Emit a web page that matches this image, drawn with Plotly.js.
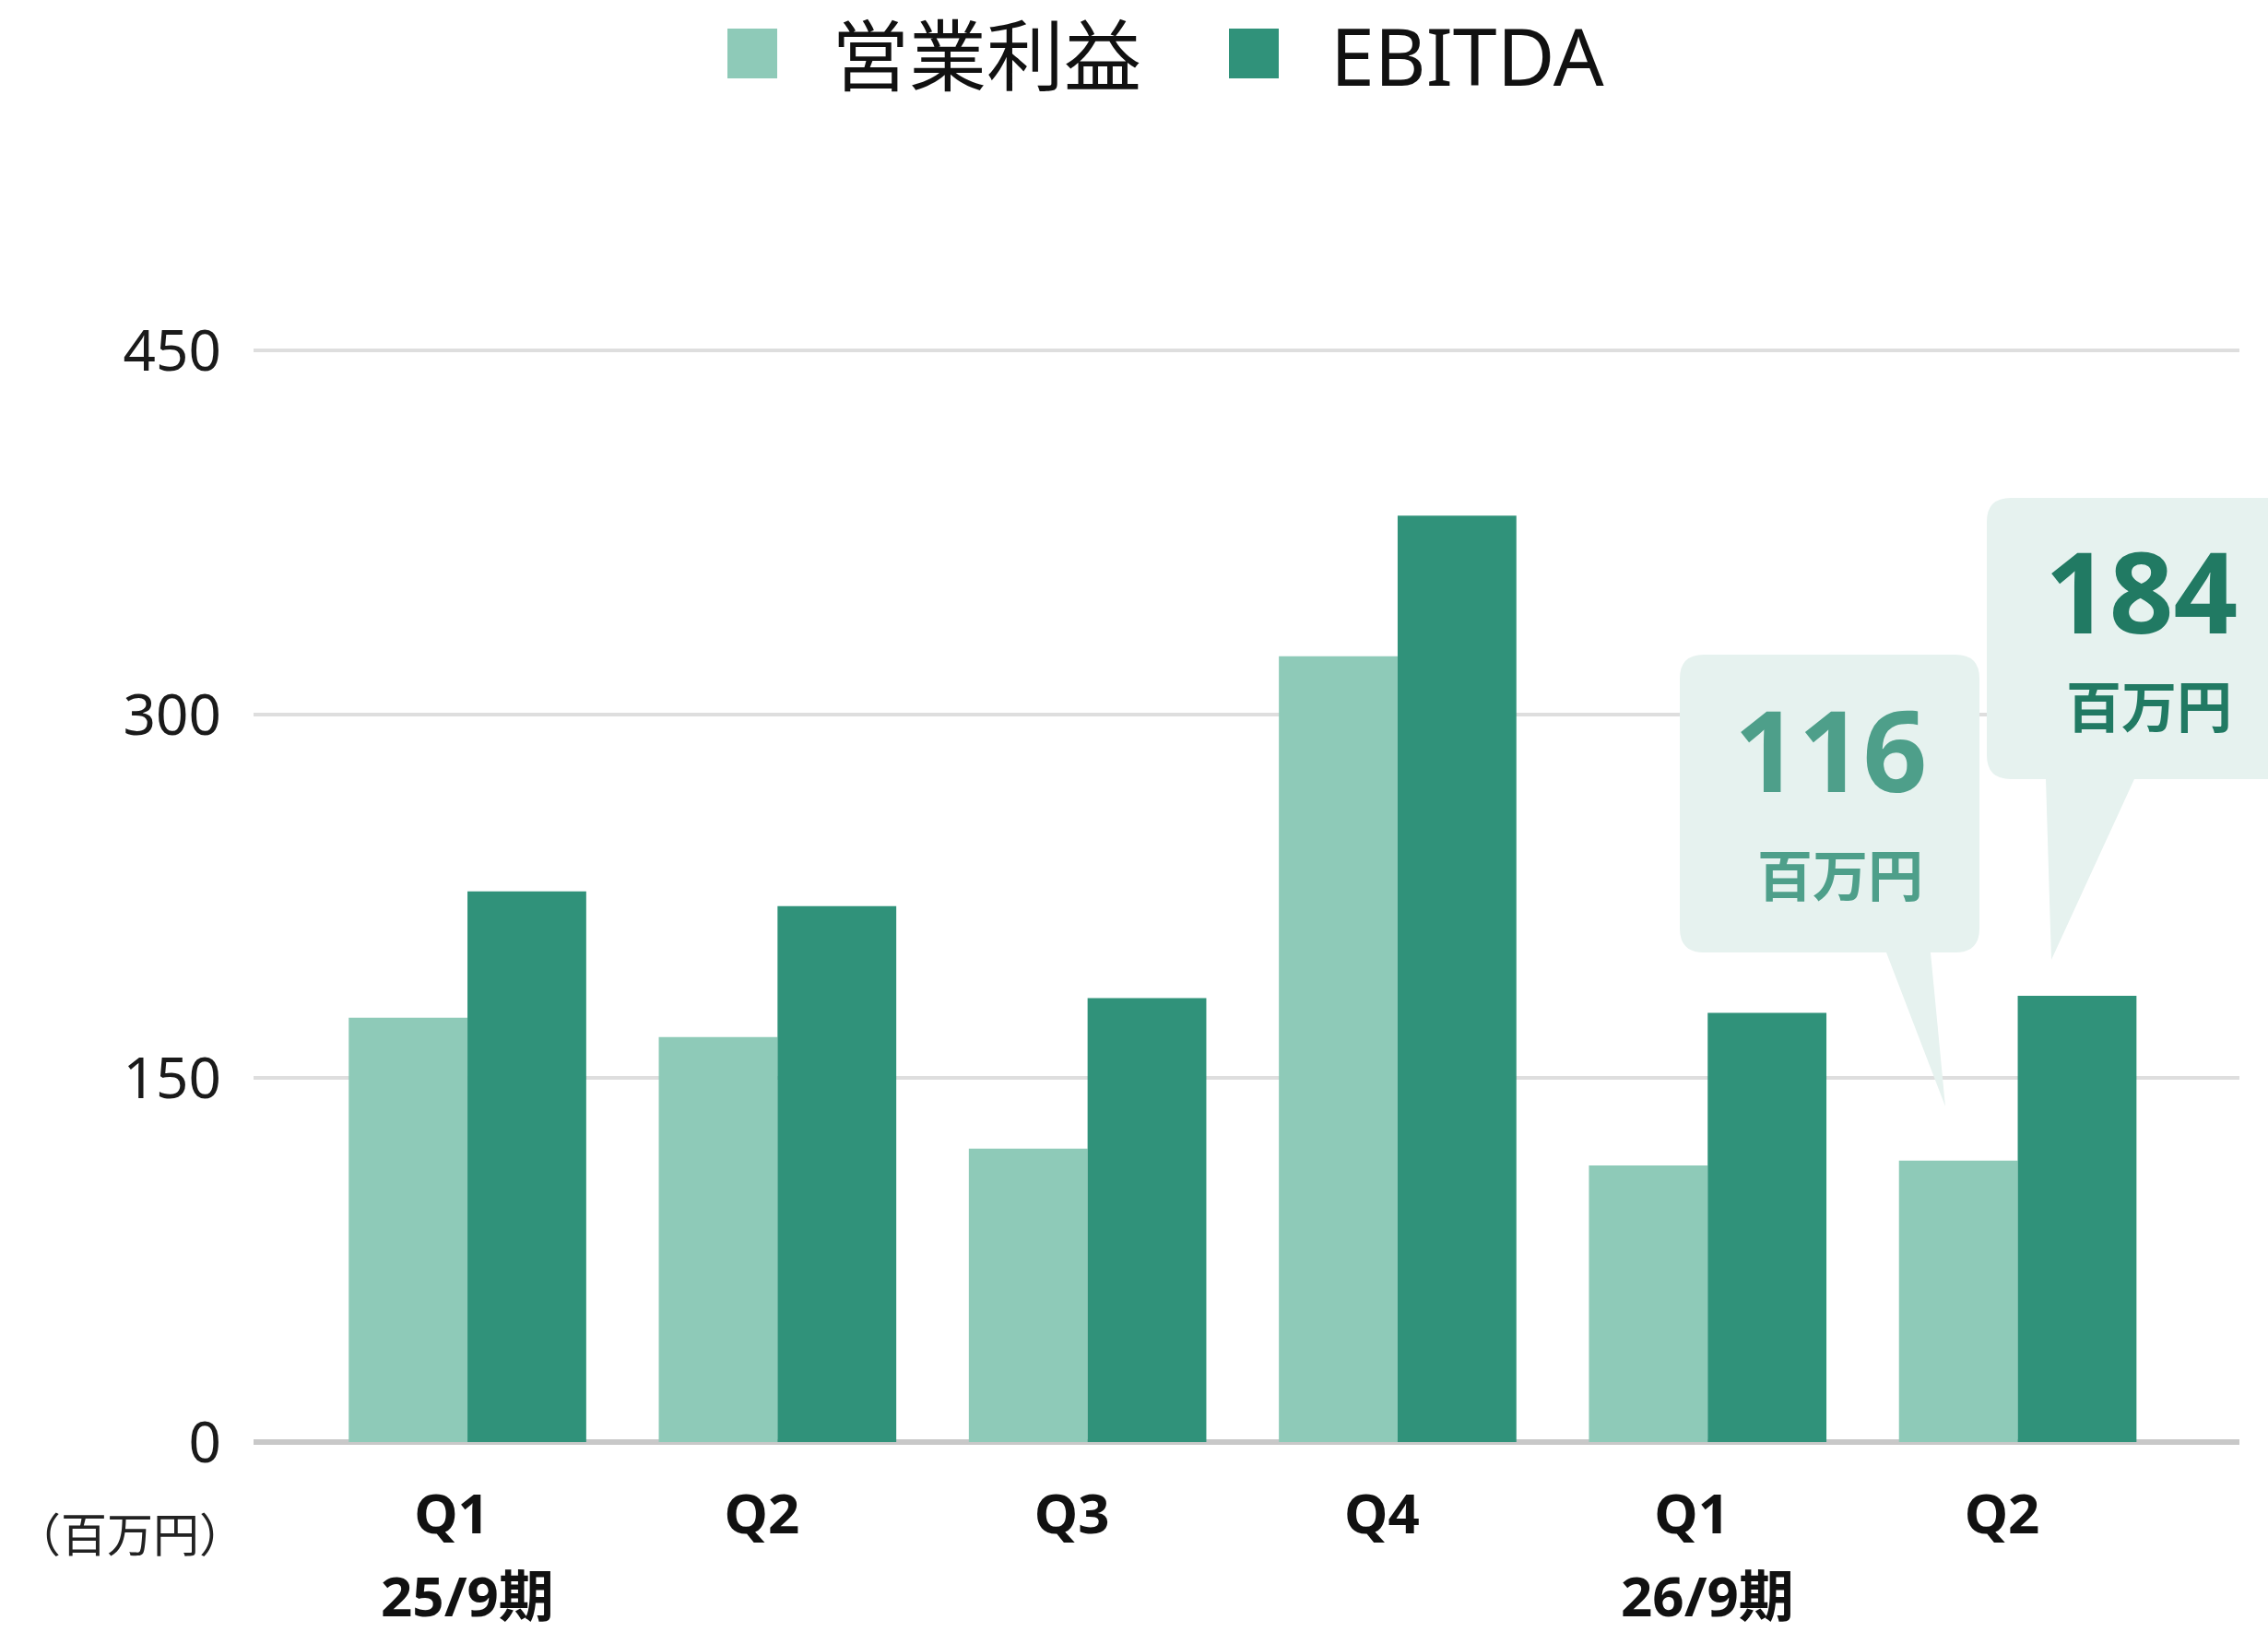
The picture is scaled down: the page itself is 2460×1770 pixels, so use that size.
<!DOCTYPE html>
<html>
<head>
<meta charset="utf-8">
<script src="https://cdn.plot.ly/plotly-3.0.1.min.js"></script>
<style>html,body{margin:0;padding:0;background:#fff;}</style>
</head>
<body>
<div id="chart" style="width:2460px;height:1770px;"></div>
<script>
// ---- data ----
const quarters = ['Q1', 'Q2', 'Q3', 'Q4', 'Q1', 'Q2'];
const periods = ['25/9期', '', '', '', '26/9期', ''];
const opIncome = [175, 167, 121, 324, 114, 116];
const ebitda = [227, 221, 183, 382, 177, 184];
const seriesNames = ['営業利益', 'EBITDA'];
const yTicks = [0, 150, 300, 450];
const unitLabel = '（百万円）';
const calloutUnit = '百万円';

// ---- style ----
const colors = ['#8ecab8', '#30927a'];
const FONT = 'Noto Sans, Noto Sans CJK JP, sans-serif';
const W = 2460, H = 1770;
const M = {l: 275, r: 31, t: 375, b: 206};
const PW = W - M.l - M.r, PH = H - M.t - M.b;
const X = px => (px - M.l) / PW;
const Y = py => (H - M.b - py) / PH;

const xIdx = quarters.map((_, i) => i);

const traces = [
  {type: 'bar', name: seriesNames[0], x: xIdx, y: opIncome,
   marker: {color: colors[0]}, hoverinfo: 'skip'},
  {type: 'bar', name: seriesNames[1], x: xIdx, y: ebitda,
   marker: {color: colors[1]}, hoverinfo: 'skip'}
];

function bubblePath(x0, y0, x1, y1, r, tail) {
  // tail: [baseRight, tipX, tipY, baseLeft] in px, on bottom edge
  const p = [];
  p.push('M' + X(x0 + r) + ',' + Y(y0));
  p.push('L' + X(x1 - r) + ',' + Y(y0));
  p.push('Q' + X(x1) + ',' + Y(y0) + ' ' + X(x1) + ',' + Y(y0 + r));
  p.push('L' + X(x1) + ',' + Y(y1 - r));
  p.push('Q' + X(x1) + ',' + Y(y1) + ' ' + X(x1 - r) + ',' + Y(y1));
  p.push('L' + X(tail[0]) + ',' + Y(y1));
  p.push('L' + X(tail[1]) + ',' + Y(tail[2]));
  p.push('L' + X(tail[3]) + ',' + Y(y1));
  p.push('L' + X(x0 + r) + ',' + Y(y1));
  p.push('Q' + X(x0) + ',' + Y(y1) + ' ' + X(x0) + ',' + Y(y1 - r));
  p.push('L' + X(x0) + ',' + Y(y0 + r));
  p.push('Q' + X(x0) + ',' + Y(y0) + ' ' + X(x0 + r) + ',' + Y(y0));
  p.push('Z');
  return p.join(' ');
}

const bubbleFill = '#e6f2ef';
const shapes = [
  // legend squares
  {type: 'rect', xref: 'paper', yref: 'paper', x0: X(789), x1: X(843), y0: Y(31), y1: Y(85),
   fillcolor: colors[0], line: {width: 0}},
  {type: 'rect', xref: 'paper', yref: 'paper', x0: X(1333), x1: X(1387), y0: Y(31), y1: Y(85),
   fillcolor: colors[1], line: {width: 0}},
  // callout bubbles
  {type: 'path', xref: 'paper', yref: 'paper', layer: 'above',
   path: bubblePath(1822, 710, 2147, 1033, 26, [2094, 2110, 1200, 2046]),
   fillcolor: bubbleFill, line: {width: 0}},
  {type: 'path', xref: 'paper', yref: 'paper', layer: 'above',
   path: bubblePath(2155, 540, 2500, 845, 26, [2315, 2225, 1041, 2219]),
   fillcolor: bubbleFill, line: {width: 0}}
];

const annotations = [
  // legend labels
  {xref: 'paper', yref: 'paper', x: X(900), y: Y(60), xanchor: 'left', yanchor: 'middle',
   text: seriesNames[0], showarrow: false, font: {family: FONT, size: 84, color: '#111'}},
  {xref: 'paper', yref: 'paper', x: X(1441), y: Y(60), xanchor: 'left', yanchor: 'middle',
   text: seriesNames[1], showarrow: false, font: {family: FONT, size: 86, color: '#111'}},
  // unit label
  {xref: 'paper', yref: 'paper', x: X(141), y: Y(1664), xanchor: 'center', yanchor: 'middle',
   text: unitLabel, showarrow: false, font: {family: FONT, size: 50, color: '#222'}},
  // callout texts
  {xref: 'paper', yref: 'paper', x: X(1985), y: Y(812), xanchor: 'center', yanchor: 'middle',
   height: 112, text: '<b>' + opIncome[5] + '</b>', showarrow: false,
   font: {family: FONT, size: 122, color: '#4e9f8a'}},
  {xref: 'paper', yref: 'paper', x: X(1996), y: Y(949), xanchor: 'center', yanchor: 'middle',
   height: 66, text: '<b>' + calloutUnit + '</b>', showarrow: false,
   font: {family: FONT, size: 60, color: '#4e9f8a'}},
  {xref: 'paper', yref: 'paper', x: X(2322), y: Y(640), xanchor: 'center', yanchor: 'middle',
   height: 112, text: '<b>' + ebitda[5] + '</b>', showarrow: false,
   font: {family: FONT, size: 122, color: '#217a63'}},
  {xref: 'paper', yref: 'paper', x: X(2331), y: Y(766), xanchor: 'center', yanchor: 'middle',
   height: 66, text: '<b>' + calloutUnit + '</b>', showarrow: false,
   font: {family: FONT, size: 60, color: '#217a63'}}
];
// period labels under categories
periods.forEach((p, i) => {
  if (!p) return;
  annotations.push({xref: 'x', yref: 'paper', x: i, y: Y(1730), xanchor: 'center', yanchor: 'middle',
    text: '<b>' + p + '</b>', showarrow: false, font: {family: FONT, size: 60, color: '#111'}});
});

const layout = {
  width: W, height: H,
  margin: M,
  paper_bgcolor: '#fff', plot_bgcolor: '#fff',
  showlegend: false,
  barmode: 'group', bargap: 0.234, bargroupgap: 0,
  font: {family: FONT, color: '#111'},
  xaxis: {
    range: [-0.69, 5.715], tickmode: 'array', tickvals: xIdx,
    ticktext: quarters.map(q => '<b>' + q + '</b>'),
    tickfont: {family: FONT, size: 60, color: '#111'},
    showgrid: false, zeroline: false, showline: false, ticks: '',
    ticklabelstandoff: 38, ticklabelshift: -17, fixedrange: true
  },
  yaxis: {
    range: [0, 452], tickmode: 'array', tickvals: yTicks,
    ticktext: yTicks.map(String),
    tickfont: {family: FONT, size: 62, color: '#1a1a1a'},
    showgrid: true, gridcolor: '#dedede', gridwidth: 4,
    zeroline: true, zerolinecolor: '#c8c8c8', zerolinewidth: 6,
    showline: false, ticks: '', ticklabelstandoff: 34, fixedrange: true
  },
  shapes: shapes,
  annotations: annotations
};

Plotly.newPlot('chart', traces, layout, {staticPlot: true, displayModeBar: false});
</script>
</body>
</html>
